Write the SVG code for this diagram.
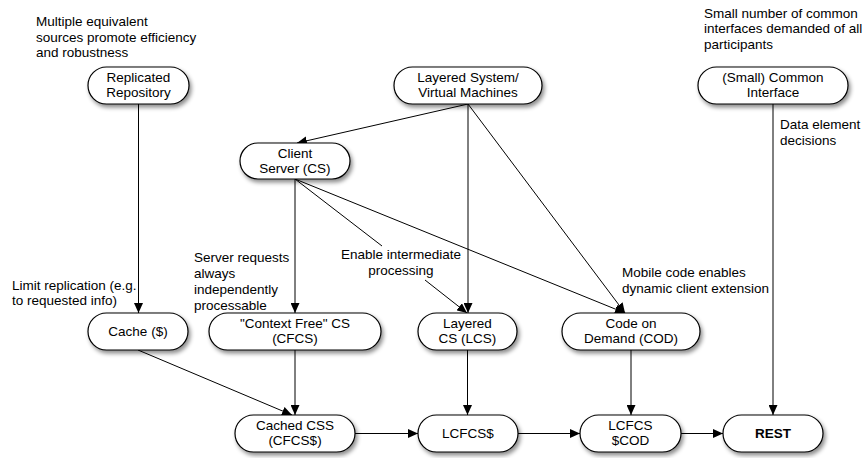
<svg xmlns="http://www.w3.org/2000/svg" width="866" height="458" viewBox="0 0 866 458">
<style>
text{font-family:"Liberation Sans",Arial,sans-serif;font-size:13.5px;fill:#000}
.n rect{fill:#fff;stroke:#000;stroke-width:1.2;filter:url(#sh)}
.n text{text-anchor:middle}
.e path{fill:none;stroke:#000;stroke-width:1}
.e .a{marker-end:url(#ah)}
.b{font-weight:bold}
</style>
<defs>
<filter id="sh" x="-20%" y="-30%" width="140%" height="170%">
<feDropShadow dx="2" dy="3" stdDeviation="2" flood-color="#000" flood-opacity="0.45"/>
</filter>
<marker id="ah" markerUnits="userSpaceOnUse" markerWidth="10" markerHeight="9" refX="10" refY="4.5" orient="auto">
<path d="M0,0 L10,4.5 L0,9 z" fill="#000"/>
</marker>
</defs>
<g id="labels">
<text x="36" y="26">Multiple equivalent</text>
<text x="36" y="42">sources promote efficiency</text>
<text x="36" y="57">and robustness</text>
<text x="704" y="18">Small number of common</text>
<text x="704" y="33">interfaces demanded of all</text>
<text x="704" y="49">participants</text>
<text x="780" y="129">Data element</text>
<text x="780" y="145">decisions</text>
<text x="12" y="290">Limit replication (e.g.</text>
<text x="12" y="305">to requested info)</text>
<text x="194" y="262">Server requests</text>
<text x="194" y="278">always</text>
<text x="194" y="294">independently</text>
<text x="194" y="310">processable</text>
<text x="401" y="259" text-anchor="middle">Enable intermediate</text>
<text x="401" y="275" text-anchor="middle">processing</text>
<text x="622" y="277">Mobile code enables</text>
<text x="622" y="293">dynamic client extension</text>
</g>
<g id="connectors" class="e">
<path class="a" d="M138.5,104 V313"/>
<path class="a" d="M468,104 L297,143"/>
<path class="a" d="M468,104 V313"/>
<path class="a" d="M468,104 L625,313"/>
<path class="a" d="M295,179 V313"/>
<path d="M295,179 L382,246"/>
<path class="a" d="M425,280 L467,313"/>
<path class="a" d="M295,179 L625,313"/>
<path class="a" d="M138,350 L292,415"/>
<path class="a" d="M295,350 V415"/>
<path class="a" d="M467.5,350 V415"/>
<path class="a" d="M631,350 V415"/>
<path class="a" d="M773,104 V415"/>
<path class="a" d="M355,433.5 H418"/>
<path class="a" d="M518,433.5 H580"/>
<path class="a" d="M681,433.5 H723"/>
</g>
<g id="replicated-repository" class="n"><rect x="88" y="67" width="101" height="37" rx="18.5"/><text x="138.5" y="82">Replicated</text><text x="138.5" y="97">Repository</text></g>
<g id="layered-system" class="n"><rect x="394" y="67" width="148" height="37" rx="18.5"/><text x="468" y="82">Layered System/</text><text x="468" y="97">Virtual Machines</text></g>
<g id="common-interface" class="n"><rect x="698" y="67" width="150" height="37" rx="18.5"/><text x="773" y="82">(Small) Common</text><text x="773" y="97">Interface</text></g>
<g id="client-server" class="n"><rect x="240" y="143" width="110" height="36" rx="18"/><text x="295" y="158">Client</text><text x="295" y="173">Server (CS)</text></g>
<g id="cache" class="n"><rect x="88" y="313" width="100" height="37" rx="18.5"/><text x="138" y="336">Cache ($)</text></g>
<g id="cfcs" class="n"><rect x="209" y="313" width="172" height="37" rx="18.5"/><text x="295" y="328">"Context Free" CS</text><text x="295" y="343">(CFCS)</text></g>
<g id="lcs" class="n"><rect x="418" y="313" width="99" height="37" rx="18.5"/><text x="467.5" y="328">Layered</text><text x="467.5" y="343">CS (LCS)</text></g>
<g id="cod" class="n"><rect x="562" y="313" width="138" height="37" rx="18.5"/><text x="631" y="328">Code on</text><text x="631" y="343">Demand (COD)</text></g>
<g id="cached-css" class="n"><rect x="235" y="415" width="120" height="37" rx="18.5"/><text x="295" y="430">Cached CSS</text><text x="295" y="445">(CFCS$)</text></g>
<g id="lcfcs" class="n"><rect x="418" y="415" width="100" height="37" rx="18.5"/><text x="468" y="438">LCFCS$</text></g>
<g id="lcfcs-cod" class="n"><rect x="580" y="415" width="101" height="37" rx="18.5"/><text x="630.5" y="430">LCFCS</text><text x="630.5" y="445">$COD</text></g>
<g id="rest" class="n"><rect x="723" y="415" width="100" height="37" rx="18.5"/><text class="b" x="773" y="438">REST</text></g>
</svg>
